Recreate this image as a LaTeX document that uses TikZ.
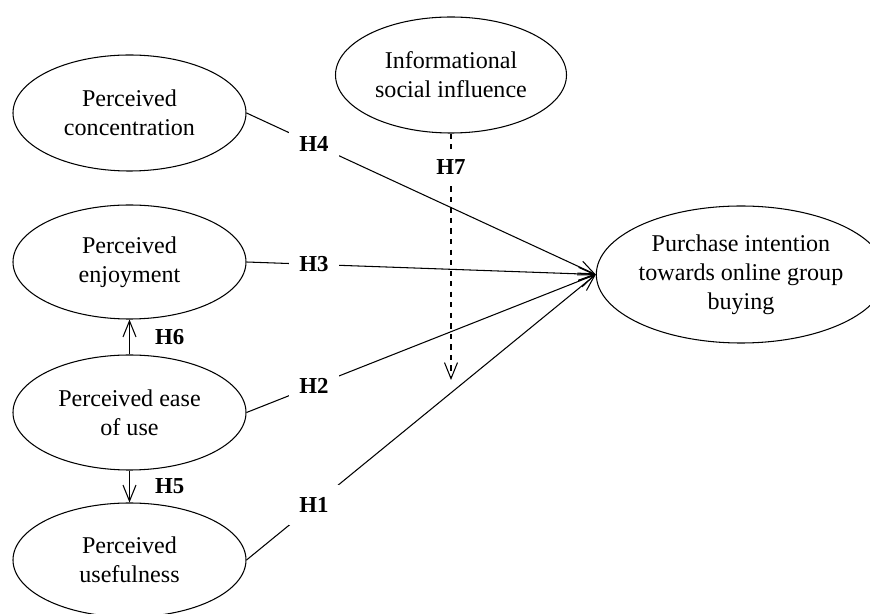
\documentclass[tikz,border=0pt]{standalone}
\usepackage{fontspec}
\setmainfont{Liberation Serif}
\usetikzlibrary{arrows.meta,shapes.geometric,positioning}

\tikzset{
  construct/.style={draw, ellipse, line width=0.6pt, inner sep=0pt, align=center,
    font=\fontsize{13.7}{16.5}\selectfont},
  hyptext/.style={inner sep=0pt, font=\fontsize{13}{15}\selectfont\bfseries},
  hyp/.style={hyptext, fill=white, minimum width=1cm, minimum height=0.8cm},
  link/.style={line width=0.6pt, -{Straight Barb[length=3.2mm,width=2.6mm]}},
}

\begin{document}
\begin{tikzpicture}
  \useasboundingbox (0,0) rectangle (17.4,-12.28);

  % constructs
  \node[construct, minimum width=4.66cm, minimum height=2.32cm] (conc) at (2.59,-2.26) {Perceived\\concentration};
  \node[construct, minimum width=4.66cm, minimum height=2.28cm] (enjoy) at (2.59,-5.24) {Perceived\\enjoyment};
  \node[construct, minimum width=4.66cm, minimum height=2.30cm] (ease) at (2.59,-8.25) {Perceived ease\\of use};
  \node[construct, minimum width=4.66cm, minimum height=2.28cm] (useful) at (2.59,-11.2) {Perceived\\usefulness};
  \node[construct, minimum width=4.62cm, minimum height=2.32cm] (social) at (9.02,-1.5) {Informational\\social influence};
  \node[construct, minimum width=5.12cm, minimum height=2.74cm] (purch) at (14.82,-5.49) {Purchase intention\\towards online group\\buying};

  % hypotheses
  \draw[link] (conc.east) -- node[hyp, pos=0.193] (h4) {H4} (purch.west);
  \draw[link] (enjoy.east) -- node[hyp, pos=0.193] (h3) {H3} (purch.west);
  \draw[link] (ease.east) -- node[hyp, pos=0.193] (h2) {H2} (purch.west);
  \draw[link] (useful.east) -- node[hyp, pos=0.193] (h1) {H1} (purch.west);
  \draw[link] (ease.north) -- node[hyptext, right=0.5cm] (h6) {H6} (enjoy.south);
  \draw[link] (ease.south) -- node[hyptext, right=0.5cm] (h5) {H5} (useful.north);

  % moderating effect
  \coordinate (h7end) at (9.02,-7.6);
  \draw[link, dashed] (social.south) -- node[hyp, pos=0.134, minimum width=0.7cm, minimum height=0.6cm] (h7) {H7} (h7end);
\end{tikzpicture}
\end{document}
